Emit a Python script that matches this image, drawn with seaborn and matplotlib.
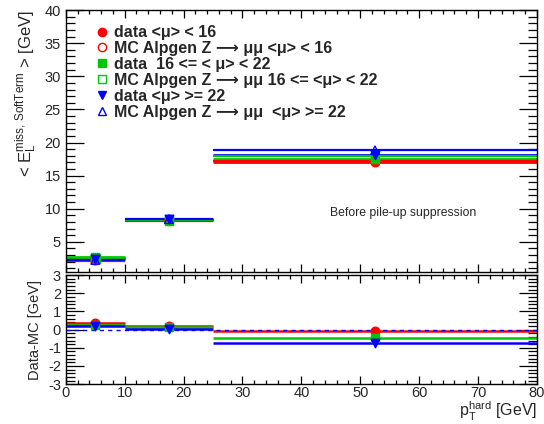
import numpy as np
import pandas as pd
import matplotlib
matplotlib.use("Agg")
import matplotlib.pyplot as plt
from matplotlib.lines import Line2D
from matplotlib.ticker import MultipleLocator
import seaborn as sns

# ---------------- data ----------------
bin_edges = [0, 10, 25, 80]
bin_centers = [5, 17.5, 52.5]

data_low = [2.50, 8.30, 17.10]
mc_low = [2.15, 8.10, 17.15]
data_mid = [2.75, 8.35, 17.45]
mc_mid = [2.47, 8.22, 17.90]
data_high = [2.45, 8.45, 18.10]
mc_high = [2.25, 8.42, 18.82]

diff_low = [0.35, 0.20, -0.05]
diff_mid = [0.28, 0.13, -0.45]
diff_high = [0.20, 0.03, -0.72]

labels = [
    "data <\u03bc> < 16",
    "MC Alpgen Z \u27f6 \u03bc\u03bc <\u03bc> < 16",
    "data  16 <= < \u03bc> < 22",
    "MC Alpgen Z \u27f6 \u03bc\u03bc 16 <= <\u03bc> < 22",
    "data <\u03bc> >= 22",
    "MC Alpgen Z \u27f6 \u03bc\u03bc  <\u03bc> >= 22",
]

# ---------------- style ----------------
sns.set_style("ticks")
plt.rcParams["font.family"] = ["Liberation Sans", "DejaVu Sans"]
plt.rcParams["mathtext.fontset"] = "custom"
plt.rcParams["mathtext.rm"] = "Liberation Sans"
plt.rcParams["mathtext.it"] = "Liberation Sans:italic"

RED = "#ff0000"
GREEN = "#00c800"
BLUE = "#0000ff"

lo = np.array(bin_edges[:-1], float)
hi = np.array(bin_edges[1:], float)
xc = np.array(bin_centers, float)
xerr = np.vstack([xc - lo, hi - xc])

fig = plt.figure(figsize=(5.44, 4.24), dpi=100)
ax1 = fig.add_axes([0.121, 0.358, 0.866, 0.618])
ax2 = fig.add_axes([0.121, 0.094, 0.866, 0.257])

series = [
    (data_low, RED, "o", True),
    (mc_low, RED, "o", False),
    (data_mid, GREEN, "s", True),
    (mc_mid, GREEN, "s", False),
    (data_high, BLUE, "v", True),
    (mc_high, BLUE, "^", False),
]

rows = []
for i, (vals, col, mk, filled) in enumerate(series):
    for x, y in zip(bin_centers, vals):
        rows.append(dict(x=x, y=y, s=i))
df = pd.DataFrame(rows)

for i, (vals, col, mk, filled) in enumerate(series):
    ax1.errorbar(xc, vals, xerr=xerr, fmt="none", ecolor=col,
                 elinewidth=2.0 if filled else 1.6, capsize=0, zorder=2 + (0 if filled else 0.5))
for i, (vals, col, mk, filled) in enumerate(series):
    sub = df[df.s == i]
    sns.scatterplot(data=sub, x="x", y="y", ax=ax1, marker=mk, s=38,
                    color=col if filled else "none",
                    edgecolor=col, linewidth=1.0, zorder=4, legend=False)

ax1.set_xlim(0, 80)
ax1.set_ylim(0.4, 40)
ax1.set_yticks([5, 10, 15, 20, 25, 30, 35, 40])
ax1.yaxis.set_minor_locator(MultipleLocator(1))
ax1.xaxis.set_major_locator(MultipleLocator(10))
ax1.xaxis.set_minor_locator(MultipleLocator(2))
ax1.set_xticklabels([])
ax1.set_xlabel("")
ax1.set_ylabel(r"< $\mathrm{E}_{\mathrm{L}}^{\mathrm{miss,\,SoftTerm}}$ > [GeV]", fontsize=12, loc="top")
ax1.text(44.8, 9.3, "Before pile-up suppression", fontsize=8.8, va="center", ha="left")

handles = []
for vals, col, mk, filled in series:
    handles.append(Line2D([], [], linestyle="none", marker=mk, markersize=6,
                          markerfacecolor=col if filled else "none",
                          markeredgecolor=col, markeredgewidth=1.0))
ax1.legend(handles, labels, loc="upper left", bbox_to_anchor=(0.066, 0.943),
           frameon=False, handlelength=0.6, handletextpad=0.5, labelspacing=0.06,
           borderpad=0, borderaxespad=0,
           prop={"family": ["Liberation Sans", "DejaVu Sans"], "weight": "bold", "size": 11.5})

# ---------------- ratio panel ----------------
diffs = [(diff_low, RED, "o"), (diff_mid, GREEN, "s"), (diff_high, BLUE, "v")]
rows2 = []
for i, (vals, col, mk) in enumerate(diffs):
    for x, y in zip(bin_centers, vals):
        rows2.append(dict(x=x, y=y, s=i))
df2 = pd.DataFrame(rows2)
for i, (vals, col, mk) in enumerate(diffs):
    ax2.errorbar(xc, vals, xerr=xerr, fmt="none", ecolor=col, elinewidth=1.8, capsize=0, zorder=2)
ax2.axhline(0, color=BLUE, ls=(0, (3, 3)), lw=1.0, zorder=3)
for i, (vals, col, mk) in enumerate(diffs):
    sub = df2[df2.s == i]
    sns.scatterplot(data=sub, x="x", y="y", ax=ax2, marker=mk, s=38, color=col,
                    edgecolor=col, linewidth=1.0, zorder=4, legend=False)

ax2.set_xlim(0, 80)
ax2.set_ylim(-3, 3)
ax2.set_yticks([-3, -2, -1, 0, 1, 2, 3])
ax2.set_yticklabels(["-3", "-2", "-1", "0", "1", "2", "3"])
ax2.yaxis.set_minor_locator(MultipleLocator(0.2))
ax2.xaxis.set_major_locator(MultipleLocator(10))
ax2.xaxis.set_minor_locator(MultipleLocator(2))
ax2.set_ylabel("Data-MC [GeV]", fontsize=10.5)

for ax in (ax1, ax2):
    for sp in ax.spines.values():
        sp.set_visible(True)
        sp.set_linewidth(1.0)
        sp.set_color("black")
    ax.tick_params(axis="both", which="both", direction="in", top=True, right=True,
                   labelsize=10.5, color="black", width=0.9)
    ax.tick_params(axis="y", which="major", length=13)
    ax.tick_params(axis="y", which="minor", length=6.5)
    ax.tick_params(axis="x", which="major", length=6)
    ax.tick_params(axis="x", which="minor", length=3)
    ax.set_facecolor("white")
ax2.tick_params(axis="x", which="major", pad=1.5)

ax2.set_xlabel(r"$\mathrm{p}_{\mathrm{T}}^{\mathrm{hard}}$ [GeV]", fontsize=11.5, loc="right", labelpad=0)

fig.savefig("out.png", dpi=100, facecolor="white")
